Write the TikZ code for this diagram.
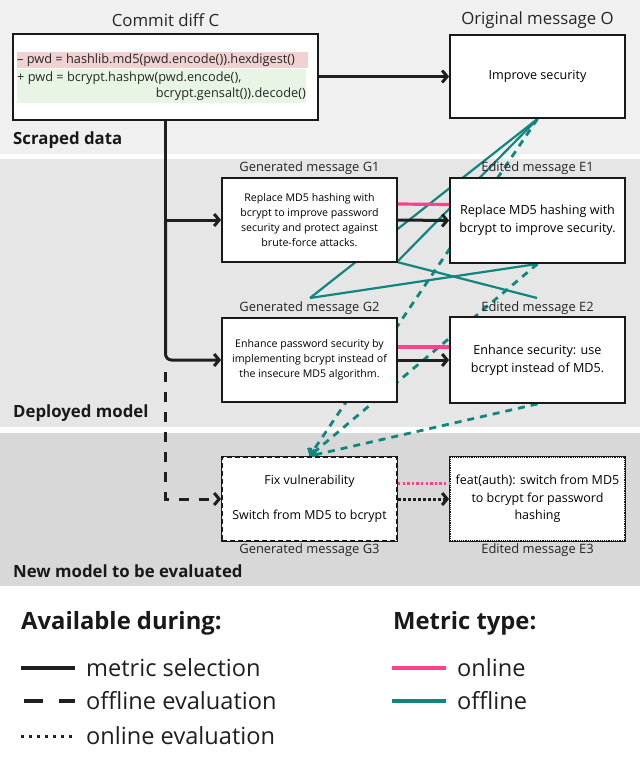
\documentclass[tikz,border=0pt]{standalone}
\usepackage{fontspec}
\setmainfont{Open Sans}
\usetikzlibrary{arrows.meta,calc}
\definecolor{tealc}{RGB}{16,134,126}
\definecolor{pinkc}{RGB}{255,64,140}
\definecolor{bandA}{RGB}{240,240,240}
\definecolor{bandB}{RGB}{230,230,230}
\definecolor{bandC}{RGB}{216,216,216}
\definecolor{redhl}{RGB}{240,210,210}
\definecolor{greenhl}{RGB}{232,245,228}
\definecolor{boxline}{RGB}{25,25,25}
\begin{document}
\begin{tikzpicture}[x=1pt,y=-1pt,
  msgbox/.style={draw=boxline, line width=1.8pt, fill=white, minimum width=175pt, minimum height=84pt, inner sep=0pt, align=center},
  title/.style={font=\fontsize{16.8}{18}\selectfont, text=black!85, inner sep=0pt},
  lab/.style={font=\fontsize{12.9}{14}\selectfont, text=black!85, inner sep=0pt},
  small/.style={font=\fontsize{10.6}{15.2}\selectfont},
  big/.style={font=\fontsize{12.6}{18}\selectfont},
  code/.style={font=\fontsize{12.75}{14}\selectfont, text=black!85, inner sep=0pt},
  band/.style={font=\bfseries\fontsize{16.8}{18}\selectfont, text=black!90, inner sep=0pt, anchor=west},
  blk/.style={draw=black!88, line width=3pt},
  blkarrow/.style={blk, -{Straight Barb[length=5pt,width=12pt]}},
  blkdash/.style={blkarrow, dash pattern=on 10pt off 10pt},
  blkdot/.style={blkarrow, dash pattern=on 2.6pt off 2.4pt},
  pinkline/.style={draw=pinkc, line width=3.2pt},
  pinkdot/.style={draw=pinkc, line width=3pt, dash pattern=on 2.4pt off 2.2pt},
  tealline/.style={draw=tealc, line width=2.2pt},
  tealdash/.style={draw=tealc, line width=2.8pt, dash pattern=on 7pt off 6pt, -{Straight Barb[length=4.5pt,width=11pt]}},
  legtext/.style={font=\fontsize{23.6}{26}\selectfont, text=black!88, inner sep=0pt, anchor=west},
  leghead/.style={font=\bfseries\fontsize{23.8}{26}\selectfont, text=black!90, inner sep=0pt, anchor=west}
]
\useasboundingbox (0,0) rectangle (640,763);
% bands
\fill[bandA] (0,0) rectangle (640,154);
\fill[bandB] (0,159) rectangle (640,427);
\fill[bandC] (0,433) rectangle (640,586);

\node[band] (lscr) at (13,140) {Scraped data};
\node[band] (ldep) at (13,413) {Deployed model};
\node[band] (lnew) at (13,571) {New model to be evaluated};

% anchor coordinates for labels
\coordinate (g2top) at (310,298);
\coordinate (e2top) at (537,298);
\coordinate (g1se) at (397,262);

% boxes (positions)
\path (165.5,77) node[msgbox, minimum width=305pt, minimum height=86pt] (C) {};
\path (537.5,76.5) node[msgbox, minimum height=83pt] (O) {};
\path (309.5,220) node[msgbox] (G1) {};
\path (537.5,220.5) node[msgbox, minimum height=85pt] (E1) {};
\path (309.5,360) node[msgbox] (G2) {};
\path (537.5,360) node[msgbox, minimum height=86pt] (E2) {};
\path (309.5,499) node[msgbox] (G3) {};
\path (537.5,499) node[msgbox] (E3) {};

% teal solid lines (offline metric)
\draw[tealline] (g2top) -- (O.south);
\draw[tealline] (g1se) -- (O.south);
\draw[tealline] (g2top) -- (E1.south);
\draw[tealline] (g1se) -- (e2top);
% teal dashed arrows
\draw[tealdash] (O.south) -- (G3.north);
\draw[tealdash] (E1.south) -- (G3.north);
\draw[tealdash] (E2.south) -- (G3.north);

% redraw boxes on top
\node[msgbox, minimum width=305pt, minimum height=86pt] (C2) at (C) {};
\node[msgbox, minimum height=83pt, font=\fontsize{12.6}{14}\selectfont] (O2) at (O) {Improve security};
\node[msgbox, small] (G1b) at (G1) {Replace MD5 hashing with\\bcrypt to improve password\\security and protect against\\brute-force attacks.};
\node[msgbox, minimum height=85pt, big] (E1b) at (E1) {Replace MD5 hashing with\\bcrypt to improve security.};
\node[msgbox, small] (G2b) at (G2) {Enhance password security by\\implementing bcrypt instead of\\the insecure MD5 algorithm.};
\node[msgbox, minimum height=86pt, big] (E2b) at (E2) {Enhance security: use\\bcrypt instead of MD5.};
\node[msgbox, dash pattern=on 5pt off 3pt, font=\fontsize{12.4}{35}\selectfont] (G3b) at (G3) {Fix vulnerability\\Switch from MD5 to bcrypt};
\node[msgbox, line width=2pt, dash pattern=on 1.2pt off 1pt, font=\fontsize{12.5}{17.5}\selectfont] (E3b) at (E3) {feat(auth): switch from MD5\\to bcrypt for password\\hashing};

% code highlights
\fill[redhl] (17,52) rectangle (308,68);
\fill[greenhl] (17,69) rectangle (306,103);
\node[code, anchor=west] (l1) at (17,60) {– pwd = hashlib.md5(pwd.encode()).hexdigest()};
\node[code, anchor=west] (l2) at (17,78) {+ pwd = bcrypt.hashpw(pwd.encode(),};
\node[code, anchor=east] (l3) at (306,94) {bcrypt.gensalt()).decode()};

% titles
\node[title] (tC) at (165.5,20) {Commit diff C};
\node[title] (tO) at (537.5,20) {Original message O};
\node[lab] (tG1) at (309.5,168) {Generated message G1};
\node[lab] (tE1) at (537.5,168) {Edited message E1};
\node[lab] (tG2) at (309.5,308) {Generated message G2};
\node[lab] (tE2) at (537.5,308) {Edited message E2};
\node[lab] (tG3) at (309.5,550) {Generated message G3};
\node[lab] (tE3) at (537.5,550) {Edited message E3};

% black connectors
\draw[blkarrow] (C.east |- O.west) -- (O.west);
\draw[blkarrow] (C.south) |- (G1.west);
\draw[blkarrow, rounded corners=6pt] (C.south |- G1.west) |- (G2.west);
\draw[blkdash] ($(C.south |- G2.west)+(0,12)$) |- (G3.west);
\draw[blkarrow] (G1.east) -- (E1.west);
\draw[blkarrow] (G2.east) -- (E2.west);
\draw[blkdot] (G3.east) -- (E3.west);
% pink (online metric)
\draw[pinkline] ($(G1.east)+(0,-16)$) -- ($(E1.west)+(0,-16)$);
\draw[pinkline] ($(G2.east)+(0,-13)$) -- ($(E2.west)+(0,-13)$);
\draw[pinkdot] ($(G3.east)+(0,-16)$) -- ($(E3.west)+(0,-16)$);

% legend
\node[leghead] (h1) at (21,623) {Available during:};
\node[leghead] (h2) at (393,623) {Metric type:};
\coordinate (s1a) at (21,668); \coordinate (s1b) at (75,668);
\coordinate (s2a) at (24,701); \coordinate (s2b) at (75,701);
\coordinate (s3a) at (21,736); \coordinate (s3b) at (75,736);
\coordinate (s4a) at (392,668); \coordinate (s4b) at (446,668);
\coordinate (s5a) at (392,701); \coordinate (s5b) at (446,701);
\draw[draw=black!88, line width=3.4pt] (s1a) -- (s1b);
\draw[draw=black!88, line width=3.4pt, dash pattern=on 19pt off 16pt] (s2a) -- (s2b);
\draw[draw=black!88, line width=3pt, dash pattern=on 3pt off 5pt] (s3a) -- (s3b);
\draw[pinkc, line width=3.8pt] (s4a) -- (s4b);
\draw[tealc, line width=3.8pt] (s5a) -- (s5b);
\node[legtext] (t1) at (86,668) {metric selection};
\node[legtext] (t2) at (86,701) {offline evaluation};
\node[legtext] (t3) at (86,736) {online evaluation};
\node[legtext] (t4) at (457,668) {online};
\node[legtext] (t5) at (457,701) {offline};
\end{tikzpicture}
\end{document}
